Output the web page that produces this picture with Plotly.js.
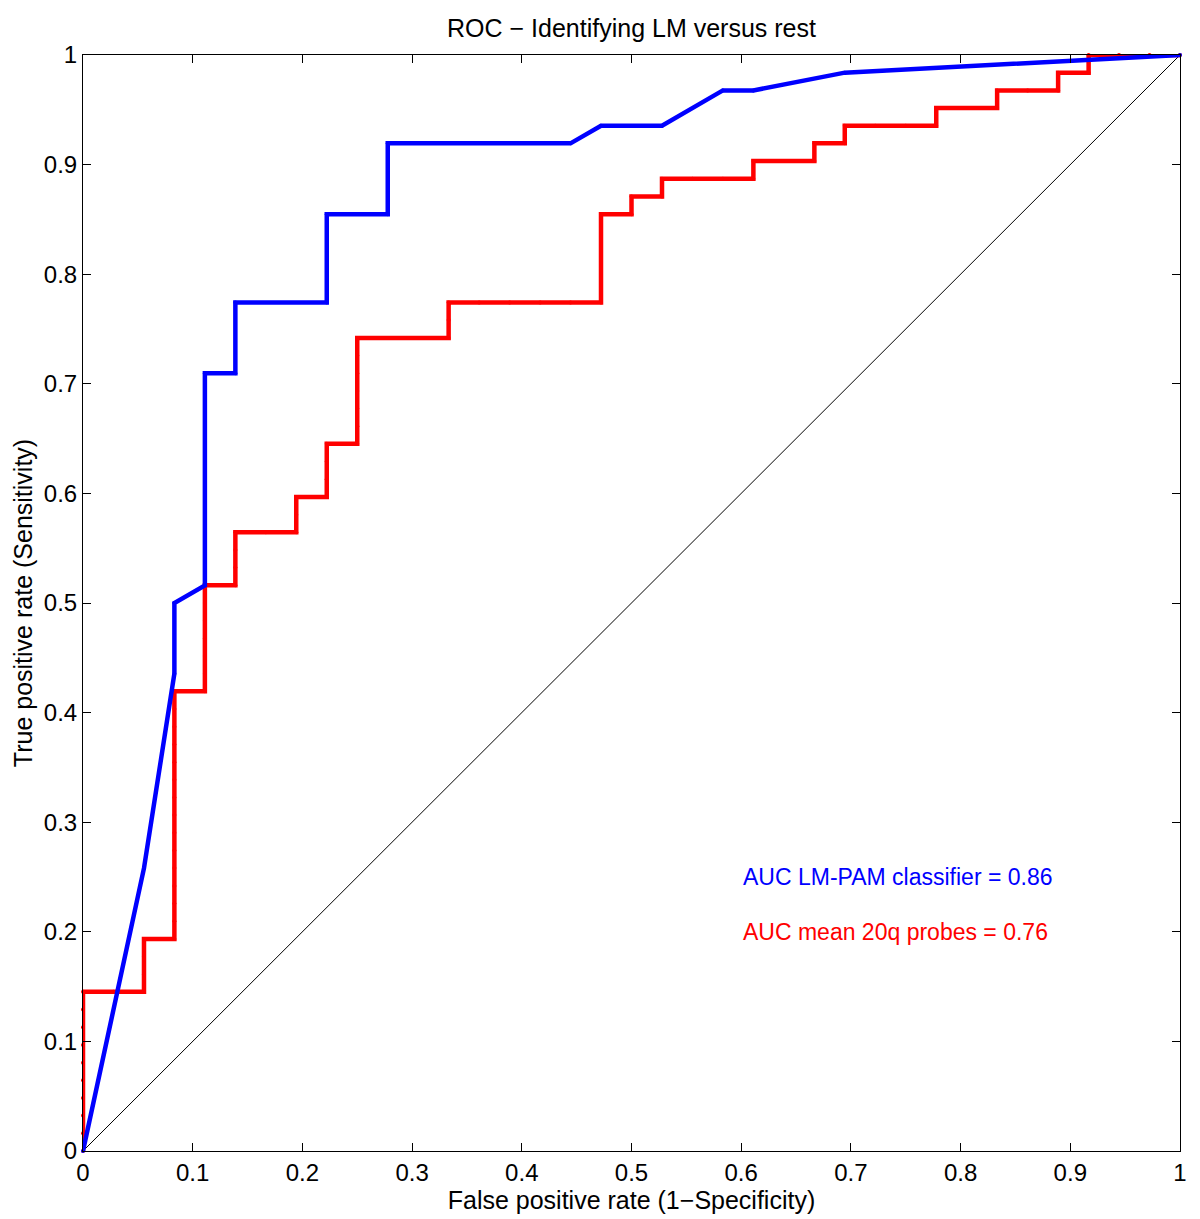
<!DOCTYPE html>
<html>
<head>
<meta charset="utf-8">
<script src="https://cdn.plot.ly/plotly-3.0.1.min.js"></script>
<style>html,body{margin:0;padding:0;background:#fff;}#chart{width:1200px;height:1219px;}</style>
</head>
<body>
<div id="chart"></div>
<script>
// Blue: LM-PAM classifier ROC
const blueFPR = [0, 0.0556, 0.0833, 0.0833, 0.1111, 0.1111, 0.1389, 0.1389, 0.2222, 0.2222, 0.2778, 0.2778, 0.4444, 0.4722, 0.5278, 0.5833, 0.6111, 0.6944, 1];
const blueTPR = [0, 0.2581, 0.4355, 0.5, 0.5161, 0.7097, 0.7097, 0.7742, 0.7742, 0.8548, 0.8548, 0.9194, 0.9194, 0.9355, 0.9355, 0.9677, 0.9677, 0.9839, 1];

// Red: mean 20q probes ROC
const redFPR = [0,0,0,0,0,0,0,0,0,0,
  0.0278,0.0556,
  0.0556,0.0556,0.0556,
  0.0833,
  0.0833,0.0833,0.0833,0.0833,0.0833,0.0833,0.0833,0.0833,0.0833,0.0833,0.0833,0.0833,0.0833,0.0833,
  0.1111,
  0.1111,0.1111,0.1111,0.1111,0.1111,0.1111,
  0.1389,
  0.1389,0.1389,0.1389,
  0.1667,0.1944,
  0.1944,0.1944,
  0.2222,
  0.2222,0.2222,0.2222,
  0.25,
  0.25,0.25,0.25,0.25,0.25,0.25,
  0.2778,0.3056,0.3333,
  0.3333,0.3333,
  0.3611,0.3889,0.4167,0.4444,0.4722,
  0.4722,0.4722,0.4722,0.4722,0.4722,
  0.5,0.5,
  0.5278,0.5278,
  0.5556,0.5833,0.6111,
  0.6111,
  0.6389,0.6667,
  0.6667,
  0.6944,0.6944,
  0.7222,0.75,0.7778,
  0.7778,
  0.8056,0.8333,
  0.8333,
  0.8611,0.8889,
  0.8889,
  0.9167,0.9167,
  0.9444,0.9722,1];
const redTPR = [0,0.0161,0.0323,0.0484,0.0645,0.0806,0.0968,0.1129,0.129,0.1452,
  0.1452,0.1452,
  0.1613,0.1774,0.1935,
  0.1935,
  0.2097,0.2258,0.2419,0.2581,0.2742,0.2903,0.3065,0.3226,0.3387,0.3548,0.371,0.3871,0.4032,0.4194,
  0.4194,
  0.4355,0.4516,0.4677,0.4839,0.5,0.5161,
  0.5161,
  0.5323,0.5484,0.5645,
  0.5645,0.5645,
  0.5806,0.5968,
  0.5968,
  0.6129,0.629,0.6452,
  0.6452,
  0.6613,0.6774,0.6935,0.7097,0.7258,0.7419,
  0.7419,0.7419,0.7419,
  0.7581,0.7742,
  0.7742,0.7742,0.7742,0.7742,0.7742,
  0.7903,0.8065,0.8226,0.8387,0.8548,
  0.8548,0.871,
  0.871,0.8871,
  0.8871,0.8871,0.8871,
  0.9032,
  0.9032,0.9032,
  0.9194,
  0.9194,0.9355,
  0.9355,0.9355,0.9355,
  0.9516,
  0.9516,0.9516,
  0.9677,
  0.9677,0.9677,
  0.9839,
  0.9839,1,
  1,1,1];

// Chance diagonal
const diagX = [0, 1];
const diagY = [0, 1];

const tickVals = [0, 0.1, 0.2, 0.3, 0.4, 0.5, 0.6, 0.7, 0.8, 0.9, 1];
const tickText = ['0', '0.1', '0.2', '0.3', '0.4', '0.5', '0.6', '0.7', '0.8', '0.9', '1'];

const titleText = 'ROC \u2212 Identifying LM versus rest';
const xTitle = 'False positive rate (1\u2212Specificity)';
const yTitle = 'True positive rate (Sensitivity)';
const blueLabel = 'AUC LM-PAM classifier = 0.86';
const redLabel = 'AUC mean 20q probes = 0.76';

const FONT = '"Liberation Sans", Arial, Helvetica, sans-serif';

const traces = [
  {x: diagX, y: diagY, mode: 'lines', line: {color: '#000', width: 1}, hoverinfo: 'skip'},
  {x: redFPR, y: redTPR, mode: 'lines+markers', line: {color: '#ff0000', width: 4.5},
   marker: {color: '#ff0000', size: 4}, cliponaxis: false},
  {x: blueFPR, y: blueTPR, mode: 'lines+markers', line: {color: '#0000ff', width: 4.5},
   marker: {color: '#0000ff', size: 4}, cliponaxis: false}
];

const axisCommon = {
  range: [0, 1], tickvals: tickVals, ticktext: tickText,
  ticks: 'inside', ticklen: 8, tickwidth: 1, tickcolor: '#000',
  showline: true, linecolor: '#000', linewidth: 1, mirror: 'ticks',
  showgrid: false, zeroline: false,
  tickfont: {family: FONT, size: 24, color: '#000'}
};

const layout = {
  width: 1200, height: 1219,
  margin: {l: 83, r: 20, t: 55, b: 68},
  paper_bgcolor: '#fff', plot_bgcolor: '#fff',
  showlegend: false,
  font: {family: FONT, color: '#000'},
  title: {text: titleText, font: {family: FONT, size: 25, color: '#000'},
          x: 0.5, xref: 'paper', y: 1 - 28/1219, yanchor: 'middle'},
  xaxis: Object.assign({}, axisCommon, {
    title: {text: xTitle, font: {family: FONT, size: 25, color: '#000'}, standoff: 2}
  }),
  yaxis: Object.assign({}, axisCommon, {
    title: {text: yTitle, font: {family: FONT, size: 25, color: '#000'}, standoff: 4}
  }),
  annotations: [
    {x: 0.6, y: 0.25, xref: 'x', yref: 'y', text: blueLabel, showarrow: false,
     xanchor: 'left', yanchor: 'middle', font: {family: FONT, size: 23, color: '#0000ff'}},
    {x: 0.6, y: 0.2, xref: 'x', yref: 'y', text: redLabel, showarrow: false,
     xanchor: 'left', yanchor: 'middle', font: {family: FONT, size: 23, color: '#ff0000'}}
  ]
};

Plotly.newPlot('chart', traces, layout, {displayModeBar: false, staticPlot: true});
</script>
</body>
</html>
